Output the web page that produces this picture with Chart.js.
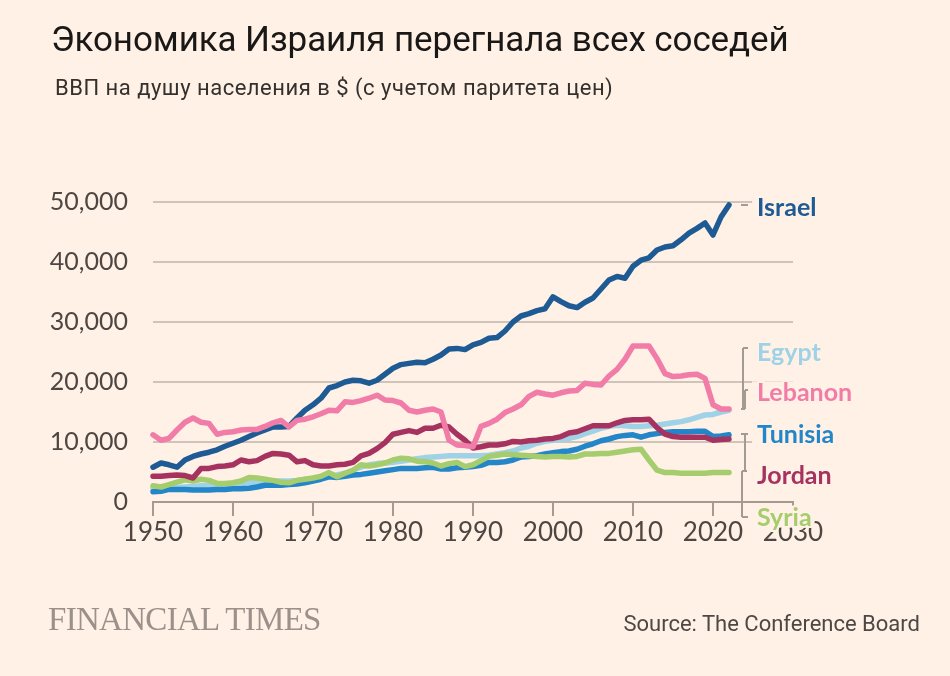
<!DOCTYPE html>
<html>
<head>
<meta charset="utf-8">
<script src="https://cdn.jsdelivr.net/npm/chart.js@4"></script>
<style>
  body { margin: 0; background: #fff1e5; }
  #wrap { position: relative; width: 950px; height: 676px; overflow: hidden; }
  #grafico { position: absolute; left: 0; top: 0; }
  .t { position: absolute; white-space: nowrap; }
  #titulo { left: 51px; top: 19px; font: 400 35px Roboto, sans-serif; color: #1a1817; letter-spacing: -0.1px; }
  #subtitulo { left: 55px; top: 75px; font: 400 22px Roboto, sans-serif; color: #33302e; letter-spacing: 0.5px; }
  #ft { left: 48px; top: 601px; font: 400 33px "Liberation Serif", serif; color: #9b918a; letter-spacing: -0.7px; }
  #fuente { right: 30px; top: 611px; font: 400 22px Roboto, sans-serif; color: #4d4845; }
</style>
</head>
<body>
<div id="wrap">
  <canvas id="grafico" width="950" height="676"></canvas>
  <div class="t" id="titulo">Экономика Израиля перегнала всех соседей</div>
  <div class="t" id="subtitulo">ВВП на душу населения в $ (с учетом паритета цен)</div>
  <div class="t" id="ft">FINANCIAL TIMES</div>
  <div class="t" id="fuente">Source: The Conference Board</div>
</div>
<script>
// años 1950-2022, valores en miles de $
var anios = [];
for (var a = 1950; a <= 2022; a++) anios.push(a);

var israel = [5.8, 6.5, 6.2, 5.8, 7.0, 7.6, 8.0, 8.3, 8.7, 9.3,
  9.8, 10.3, 10.9, 11.5, 12.0, 12.5, 12.5, 12.6, 14.0, 15.3,
  16.2, 17.3, 19.0, 19.4, 20.0, 20.3, 20.2, 19.8, 20.3, 21.3,
  22.3, 22.9, 23.1, 23.3, 23.2, 23.8, 24.5, 25.5, 25.6, 25.4,
  26.2, 26.6, 27.3, 27.4, 28.5, 30.0, 31.0, 31.4, 31.9, 32.2,
  34.2, 33.4, 32.7, 32.4, 33.3, 34.0, 35.5, 37.0, 37.6, 37.3,
  39.3, 40.3, 40.7, 42.0, 42.5, 42.7, 43.7, 44.8, 45.6, 46.5,
  44.5, 47.5, 49.5];
var egipto = [2.2, 2.3, 2.3, 2.4, 2.5, 2.6, 2.7, 2.7, 2.8, 2.9,
  3.0, 3.1, 3.2, 3.3, 3.4, 3.5, 3.5, 3.5, 3.6, 3.8,
  3.9, 4.1, 4.3, 4.5, 4.8, 5.3, 5.8, 6.2, 6.4, 6.5,
  6.6, 6.8, 7.0, 7.2, 7.4, 7.5, 7.6, 7.7, 7.7, 7.7,
  7.7, 7.7, 7.8, 8.0, 8.2, 8.5, 9.0, 9.3, 9.8, 10.1,
  10.3, 10.4, 10.6, 10.9, 11.4, 11.8, 12.3, 12.6, 12.8, 12.7,
  12.6, 12.6, 12.7, 12.8, 13.0, 13.2, 13.4, 13.7, 14.1, 14.5,
  14.6, 15.0, 15.3];
var libano = [11.2, 10.3, 10.6, 12.0, 13.3, 14.0, 13.3, 13.1, 11.3, 11.6,
  11.7, 12.0, 12.1, 12.1, 12.6, 13.2, 13.6, 12.5, 13.6, 13.8,
  14.2, 14.7, 15.3, 15.2, 16.7, 16.6, 16.9, 17.3, 17.8, 17.0,
  16.9, 16.5, 15.3, 15.0, 15.3, 15.5, 15.0, 10.3, 9.5, 9.4,
  9.2, 12.6, 13.1, 13.8, 14.9, 15.5, 16.2, 17.6, 18.3, 18.0,
  17.8, 18.2, 18.5, 18.6, 19.8, 19.6, 19.5, 21.0, 22.1, 23.8,
  26.0, 26.0, 26.0, 23.9, 21.4, 20.9, 21.0, 21.2, 21.3, 20.6,
  16.2, 15.5, 15.5];
var tunez = [1.7, 1.8, 2.1, 2.1, 2.1, 2.0, 2.0, 2.0, 2.1, 2.1,
  2.2, 2.2, 2.3, 2.5, 2.8, 2.8, 2.8, 2.9, 3.0, 3.2,
  3.5, 3.8, 4.2, 4.1, 4.3, 4.5, 4.6, 4.8, 5.0, 5.2,
  5.4, 5.6, 5.6, 5.6, 5.7, 5.8, 5.5, 5.5, 5.7, 5.8,
  5.9, 6.1, 6.6, 6.6, 6.7, 7.0, 7.5, 7.6, 7.7, 8.0,
  8.2, 8.4, 8.5, 8.8, 9.3, 9.7, 10.2, 10.5, 10.9, 11.1,
  11.2, 10.8, 11.2, 11.4, 11.6, 11.7, 11.7, 11.7, 11.8, 11.8,
  10.9, 11.0, 11.2];
var jordania = [4.3, 4.3, 4.4, 4.5, 4.4, 4.0, 5.6, 5.6, 5.9, 6.0,
  6.2, 7.0, 6.7, 6.9, 7.6, 8.1, 8.0, 7.8, 6.7, 6.9,
  6.2, 6.0, 6.0, 6.2, 6.3, 6.6, 7.7, 8.1, 8.9, 9.9,
  11.3, 11.6, 11.9, 11.6, 12.3, 12.3, 12.8, 12.5, 11.3, 10.3,
  9.0, 9.2, 9.5, 9.5, 9.7, 10.1, 10.0, 10.2, 10.3, 10.5,
  10.6, 10.9, 11.5, 11.7, 12.2, 12.7, 12.7, 12.7, 13.2, 13.6,
  13.7, 13.7, 13.8, 12.4, 11.3, 10.9, 10.8, 10.8, 10.8, 10.8,
  10.3, 10.4, 10.5];
var siria = [2.7, 2.5, 2.9, 3.3, 3.7, 3.5, 3.8, 3.6, 3.1, 3.1,
  3.2, 3.5, 4.1, 4.0, 3.8, 3.6, 3.3, 3.2, 3.6, 3.8,
  4.0, 4.3, 4.9, 4.2, 4.8, 5.3, 6.2, 6.0, 6.2, 6.5,
  7.0, 7.3, 7.2, 6.8, 6.7, 6.5, 6.0, 6.4, 6.6, 5.9,
  6.2, 6.9, 7.6, 7.8, 8.0, 7.9, 7.8, 7.7, 7.6, 7.5,
  7.6, 7.6, 7.5, 7.6, 8.0, 8.0, 8.1, 8.1, 8.3, 8.5,
  8.7, 8.8, 7.0, 5.3, 4.9, 4.9, 4.8, 4.8, 4.8, 4.8,
  4.9, 4.9, 4.9];

var paises = ['Israel', 'Egypt', 'Lebanon', 'Tunisia', 'Jordan', 'Syria'];
var colores = ['#1e5a93', '#9fd2e6', '#f27ca8', '#2386c8', '#a63260', '#a5cd6e'];
var series = [israel, egipto, libano, tunez, jordania, siria];
var ordenDibujo = [1, 5, 0, 4, 2, 3];

var ticksY = [0, 10000, 20000, 30000, 40000, 50000];
var ticksX = [1950, 1960, 1970, 1980, 1990, 2000, 2010, 2020, 2030];

// posiciones de las etiquetas a la derecha (en valores del eje y)
var etiquetaY = [49000, 24800, 18100, 11100, 4300, -2600];

var fondo = '#fff1e5';
var gris = '#a39a92';

function puntos(vals) {
    return vals.map(function (v, i) { return { x: anios[i], y: v * 1000 }; });
}

var datasets = paises.map(function (p, i) {
    return {
        label: p,
        data: puntos(series[i]),
        borderColor: colores[i],
        borderWidth: 5.5,
        pointRadius: 0,
        borderJoinStyle: 'round',
        borderCapStyle: 'round',
        clip: false,
        order: ordenDibujo[i]
    };
});

var etiquetas = {
    id: 'etiquetas',
    afterDraw: function (chart) {
        var ctx = chart.ctx;
        var y = chart.scales.y;
        ctx.save();
        ctx.font = 'bold 25px Lato';
        ctx.textBaseline = 'middle';
        paises.forEach(function (p, i) {
            var py = y.getPixelForValue(etiquetaY[i]);
            var w = ctx.measureText(p).width;
            ctx.fillStyle = fondo;
            ctx.fillRect(752, py - 12, w + 8, 22);
            ctx.strokeStyle = fondo;
            ctx.lineWidth = 4;
            ctx.strokeText(p, 757, py);
            ctx.fillStyle = colores[i];
            ctx.fillText(p, 757, py);
        });
        // corchetes grises
        ctx.strokeStyle = gris;
        ctx.lineWidth = 2;
        function seg(x1, y1, x2, y2) {
            ctx.beginPath(); ctx.moveTo(x1, y1); ctx.lineTo(x2, y2); ctx.stroke();
        }
        var pIsr = y.getPixelForValue(israel[israel.length - 1] * 1000);
        seg(741, pIsr, 748, pIsr);
        var pLeb = y.getPixelForValue(15500);
        seg(743, 348, 743, pLeb);
        seg(743, 348, 748, 348);
        seg(745, 390, 745, pLeb);
        seg(745, 390, 748, 390);
        seg(741, pLeb, 745, pLeb);
        seg(745, 434, 745, 471);
        seg(741, 434, 748, 434);
        seg(742, 471, 742, 517);
        seg(742, 471, 747, 471);
        seg(742, 517, 748, 517);
        ctx.restore();
    }
};

var ctx = document.getElementById('grafico').getContext('2d');
var grafico = new Chart(ctx, {
    type: 'line',
    data: { datasets: datasets },
    options: {
        responsive: false,
        animation: false,
        layout: { padding: { left: 0, right: 157, top: 202, bottom: 0 } },
        plugins: { legend: { display: false }, tooltip: { enabled: false } },
        scales: {
            x: {
                type: 'linear',
                min: 1950,
                max: 2030,
                afterBuildTicks: function (s) { s.ticks = ticksX.map(function (v) { return { value: v }; }); },
                afterFit: function (s) { s.height = 174; },
                ticks: {
                    color: '#4d4642',
                    font: { family: 'Lato', size: 26 },
                    padding: 1,
                    maxRotation: 0,
                    callback: function (v) { return String(v); }
                },
                grid: { drawOnChartArea: false, drawTicks: true, tickLength: 14, color: gris, lineWidth: 2 },
                border: { display: true, color: gris, width: 2 }
            },
            y: {
                min: 0,
                max: 50000,
                afterBuildTicks: function (s) { s.ticks = ticksY.map(function (v) { return { value: v }; }); },
                afterFit: function (s) { s.width = 153; },
                ticks: {
                    color: '#4d4642',
                    font: { family: 'Lato', size: 25 },
                    padding: 25,
                    callback: function (v) { return v.toLocaleString('en-US'); }
                },
                grid: { drawTicks: false, color: '#cfc4ba', lineWidth: 2 },
                border: { display: false }
            }
        }
    },
    plugins: [etiquetas]
});
</script>
</body>
</html>
